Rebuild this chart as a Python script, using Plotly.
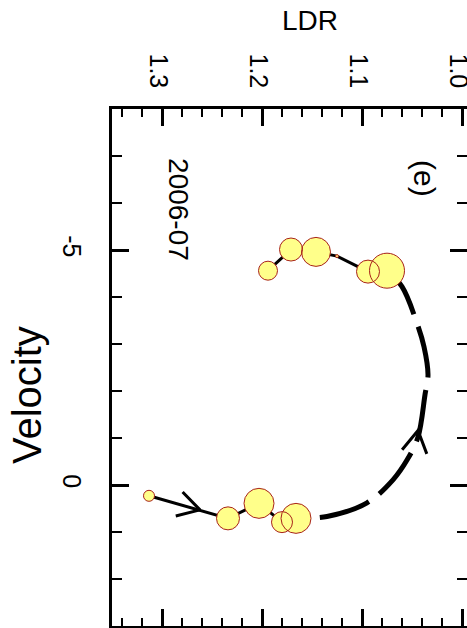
import math
import plotly.graph_objects as go

# 2006-07 season: observed (LDR, velocity) points and symbol diameters (px)
LDR_EARLY = [1.313, 1.234, 1.203, 1.180, 1.166]
VEL_EARLY = [0.23, 0.71, 0.39, 0.79, 0.71]
SIZE_EARLY = [11, 23, 30, 21, 30]

LDR_LATE = [1.075, 1.094, 1.125, 1.146, 1.171, 1.194]
VEL_LATE = [-4.56, -4.54, -4.87, -4.96, -5.01, -4.56]
SIZE_LATE = [35, 23, 3, 29, 23, 19]

# transition path from the last early point to the first late point
LDR_GAP = [1.166, 1.135, 1.095, 1.069, 1.055, 1.044, 1.037, 1.034, 1.038, 1.045, 1.060, 1.075]
VEL_GAP = [0.71, 0.67, 0.38, -0.11, -0.53, -1.02, -1.92, -2.34, -2.94, -3.44, -4.22, -4.56]

# arrow tips marking the direction of travel
ARROW_LDR = [1.262, 1.044]
ARROW_VEL = [0.53, -1.16]

X_TICKS = [1.0, 1.1, 1.2, 1.3]
Y_TICKS = [-5, 0]

# figure geometry
W, H = 467, 628
ML, MR, MT, MB = 112, 0, 109, 2
X_RANGE = [1.35, 0.995]
Y_RANGE = [3, -8]
PW, PH = W - ML - MR, H - MT - MB

FONT = "Liberation Sans, Arial, Helvetica, sans-serif"


def to_px(x, y):
    px = ML + (x - X_RANGE[0]) / (X_RANGE[1] - X_RANGE[0]) * PW
    py = MT + (y - Y_RANGE[1]) / (Y_RANGE[0] - Y_RANGE[1]) * PH
    return px, py


def to_data(px, py):
    x = X_RANGE[0] + (px - ML) / PW * (X_RANGE[1] - X_RANGE[0])
    y = Y_RANGE[1] + (py - MT) / PH * (Y_RANGE[0] - Y_RANGE[1])
    return x, y


# travel path used to orient the arrowheads
path = list(zip(LDR_EARLY, VEL_EARLY)) + list(zip(LDR_GAP[1:], VEL_GAP[1:]))
path_px = [to_px(x, y) for x, y in path]


def heading_at(tx, ty):
    best, ang = None, 0.0
    for (ax, ay), (bx, by) in zip(path_px[:-1], path_px[1:]):
        dx, dy = bx - ax, by - ay
        L2 = dx * dx + dy * dy
        t = max(0.0, min(1.0, ((tx - ax) * dx + (ty - ay) * dy) / L2))
        cx, cy = ax + t * dx, ay + t * dy
        d = math.hypot(tx - cx, ty - cy)
        if best is None or d < best:
            best, ang = d, math.atan2(dy, dx)
    return ang


arm_x, arm_y = [], []
ARM_LEN, ARM_HALF = 25, math.radians(30)
for lx, vy in zip(ARROW_LDR, ARROW_VEL):
    tx, ty = to_px(lx, vy)
    th = heading_at(tx, ty) + math.pi
    pts = []
    for s in (-1, 1):
        a = th + s * ARM_HALF
        pts.append(to_data(tx + ARM_LEN * math.cos(a), ty + ARM_LEN * math.sin(a)))
    arm_x += [pts[0][0], lx, pts[1][0], None]
    arm_y += [pts[0][1], vy, pts[1][1], None]

fig = go.Figure()

# transition path (dashed), drawn from the late group back so the dash phase starts there
fig.add_trace(go.Scatter(
    x=LDR_GAP[::-1], y=VEL_GAP[::-1], mode="lines",
    line=dict(color="black", width=5, dash="52px,13px", shape="spline", smoothing=1),
    hoverinfo="skip"))

for xs, ys in ((LDR_EARLY, VEL_EARLY), (LDR_LATE, VEL_LATE)):
    fig.add_trace(go.Scatter(x=xs, y=ys, mode="lines",
                             line=dict(color="black", width=3), hoverinfo="skip"))

fig.add_trace(go.Scatter(x=arm_x, y=arm_y, mode="lines",
                         line=dict(color="black", width=3), hoverinfo="skip"))

all_x = LDR_EARLY + LDR_LATE
all_y = VEL_EARLY + VEL_LATE
all_s = SIZE_EARLY + SIZE_LATE
# fills first, then outlines so overlapping rims stay visible
fig.add_trace(go.Scatter(x=all_x, y=all_y, mode="markers",
                         marker=dict(size=all_s, color="#FFFF8A", opacity=1,
                                     line=dict(width=0))))
fig.add_trace(go.Scatter(x=all_x, y=all_y, mode="markers",
                         marker=dict(size=all_s, color="rgba(0,0,0,0)", opacity=1,
                                     line=dict(width=1, color="#A8221A"))))

axis_common = dict(
    showline=True, linewidth=3, linecolor="black", mirror="allticks",
    ticks="inside", ticklen=17, tickwidth=3, tickcolor="black",
    showgrid=False, zeroline=False, tickangle=90, automargin=False,
    ticklabeloverflow="allow",
    tickfont=dict(family=FONT, size=25, color="black"),
)

fig.update_xaxes(range=X_RANGE, side="top", tickmode="array", tickvals=X_TICKS,
                 ticktext=[f"{v:.1f}" for v in X_TICKS], ticklabelstandoff=9,
                 ticklabelshift=4,
                 minor=dict(dtick=0.02, tick0=1.0, ticks="inside", ticklen=8,
                            tickwidth=2, tickcolor="black", showgrid=False),
                 **axis_common)
fig.update_yaxes(range=Y_RANGE, tickmode="array", tickvals=Y_TICKS,
                 ticktext=[str(v) for v in Y_TICKS], ticklabelstandoff=16,
                 minor=dict(dtick=1, tick0=0, ticks="inside", ticklen=10,
                            tickwidth=2, tickcolor="black", showgrid=False),
                 **axis_common)


def py_paper(py):
    return (H - MB - py) / PH


def px_paper(px):
    return (px - ML) / PW


fig.add_annotation(text="LDR", x=px_paper(310), y=py_paper(21), xref="paper", yref="paper",
                   xanchor="center", yanchor="middle",
                   showarrow=False, font=dict(family=FONT, size=28, color="black"))
fig.add_annotation(text="Velocity", x=px_paper(27), y=py_paper(395), xref="paper", yref="paper",
                   xanchor="center", yanchor="middle",
                   showarrow=False, textangle=-90, font=dict(family=FONT, size=40, color="black"))
fig.add_annotation(text="(e)", x=1.037, y=-6.53, showarrow=False, textangle=90,
                   xanchor="center", yanchor="middle",
                   font=dict(family=FONT, size=30, color="black"))
fig.add_annotation(text="2006-07", x=1.2835, y=-5.86, showarrow=False, textangle=90,
                   xanchor="center", yanchor="middle",
                   font=dict(family=FONT, size=28, color="black"))

fig.update_layout(
    width=W, height=H, margin=dict(l=ML, r=MR, t=MT, b=MB),
    paper_bgcolor="white", plot_bgcolor="white", showlegend=False,
)

fig.write_html("out.html")
